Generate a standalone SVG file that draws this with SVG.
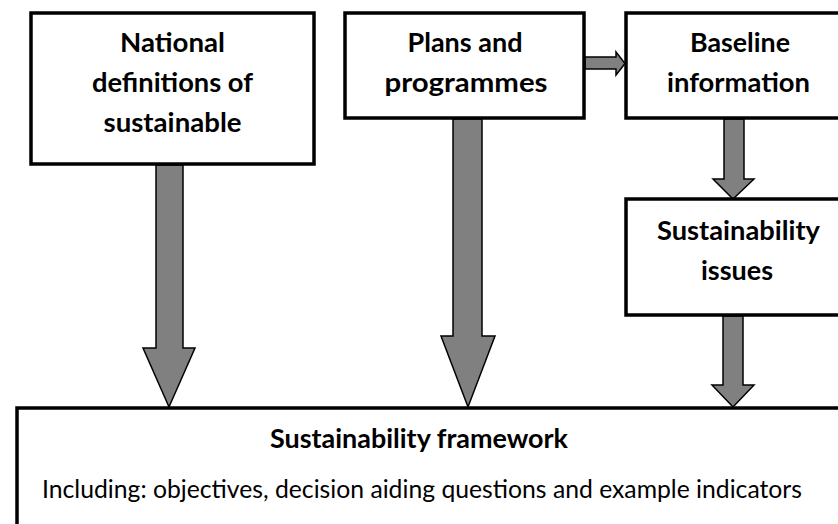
<svg xmlns="http://www.w3.org/2000/svg" width="838" height="524" viewBox="0 0 838 524">
<style>
.box{fill:#fff;stroke:#000;stroke-width:3.5}
.arr{fill:#808080;stroke:#000;stroke-width:1.5;stroke-linejoin:miter}
.b{font-family:Lato,"Open Sans","Liberation Sans",sans-serif;font-weight:bold;font-size:26px;fill:#000;text-anchor:middle}
.r{font-family:Lato,"Open Sans","Liberation Sans",sans-serif;font-size:25px;fill:#000}
</style>
<rect width="838" height="524" fill="#fff"/>
<g id="connectors">
<polygon class="arr" points="156,165 183,165 183,348 195,348 169,407 143,348 156,348"/>
<polygon class="arr" points="453,119 482,119 482,336 495,336 468,407 441,336 453,336"/>
<polygon class="arr" points="724,119 744,119 744,179 754,179 733,199 713,179 724,179"/>
<polygon class="arr" points="723,316 743,316 743,385 754,385 733,407 712,385 723,385"/>
<polygon class="arr" points="585,57 616,57 616,52 625,63.5 616,75 616,69 585,69"/>
</g>
<g id="national">
<rect class="box" x="31" y="13" width="283" height="151"/>
<text class="b" x="172.5" y="52" textLength="105" lengthAdjust="spacingAndGlyphs">National</text>
<text class="b" x="172.5" y="92" textLength="161" lengthAdjust="spacingAndGlyphs">definitions of</text>
<text class="b" x="172.5" y="132" textLength="138" lengthAdjust="spacingAndGlyphs">sustainable</text>
</g>
<g id="plans">
<rect class="box" x="345" y="13" width="239" height="105"/>
<text class="b" x="465" y="52" textLength="115" lengthAdjust="spacingAndGlyphs">Plans and</text>
<text class="b" x="466" y="92" textLength="163" lengthAdjust="spacingAndGlyphs">programmes</text>
</g>
<g id="baseline">
<rect class="box" x="626" y="13" width="240" height="105"/>
<text class="b" x="740" y="52" textLength="100" lengthAdjust="spacingAndGlyphs">Baseline</text>
<text class="b" x="738.5" y="92" textLength="143" lengthAdjust="spacingAndGlyphs">information</text>
</g>
<g id="issues">
<rect class="box" x="626" y="199" width="240" height="116"/>
<text class="b" x="738.5" y="240" textLength="163" lengthAdjust="spacingAndGlyphs">Sustainability</text>
<text class="b" x="737" y="280" textLength="72" lengthAdjust="spacingAndGlyphs">issues</text>
</g>
<g id="framework">
<rect class="box" x="17" y="408" width="850" height="140"/>
<text class="b" x="419" y="448" textLength="298" lengthAdjust="spacingAndGlyphs">Sustainability framework</text>
<text class="r" x="42" y="498" textLength="760" lengthAdjust="spacingAndGlyphs">Including: objectives, decision aiding questions and example indicators</text>
</g>
</svg>
